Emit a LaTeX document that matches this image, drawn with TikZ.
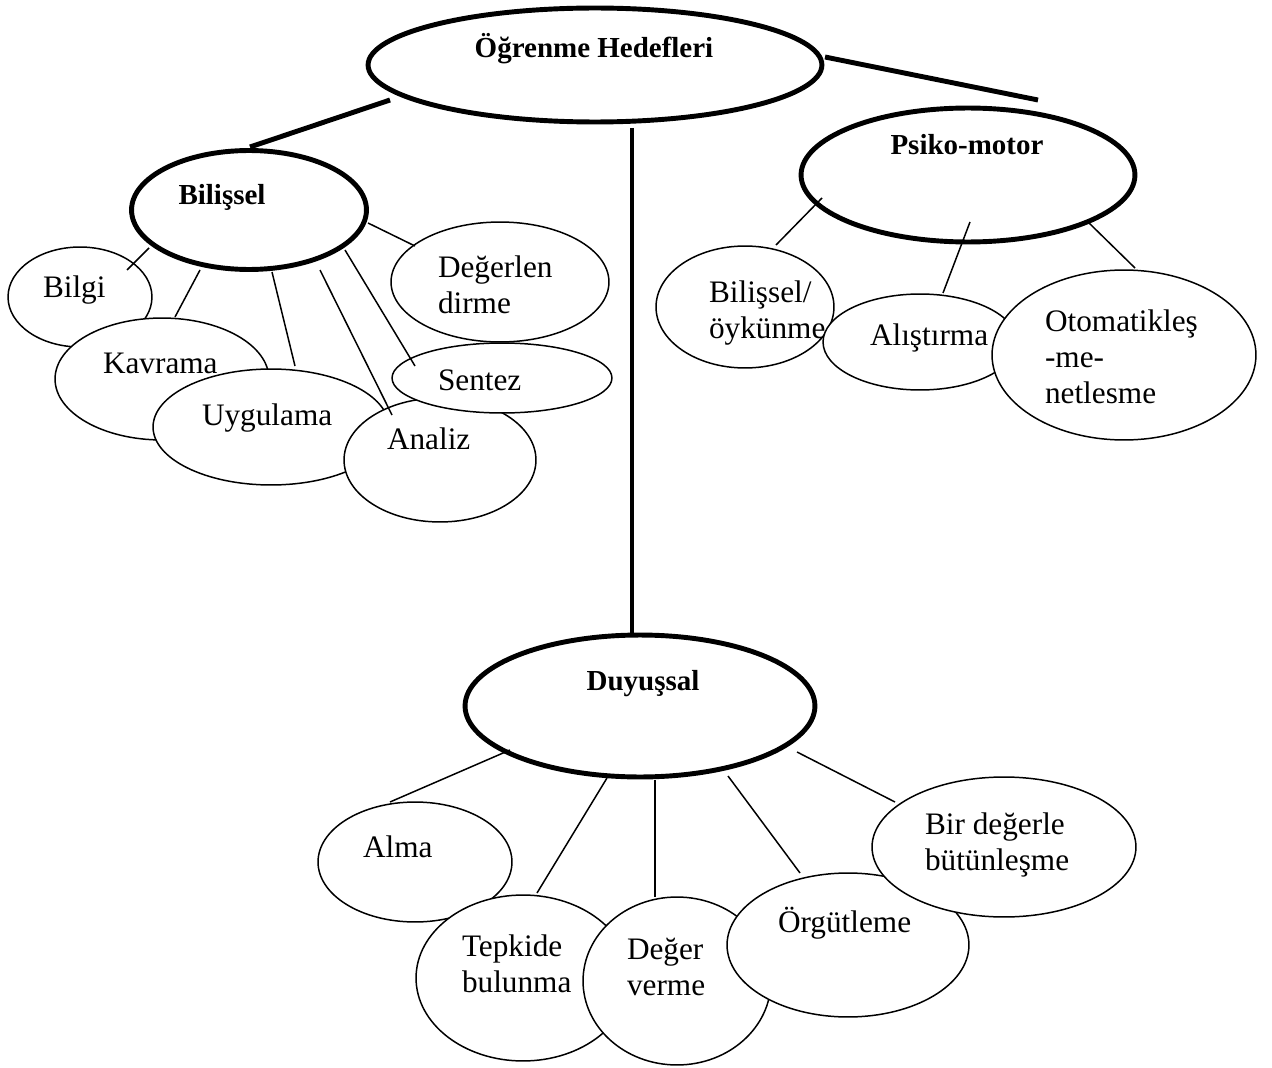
\documentclass[tikz,border=0pt]{standalone}
\usepackage{fontspec}
\setmainfont{Liberation Serif}
\usetikzlibrary{shapes.geometric}
\begin{document}
\begin{tikzpicture}[x=0.02cm,y=-0.02cm,
  every node/.style={inner sep=0pt, outer sep=0pt},
  bigel/.style 2 args={ellipse, draw, line width=2.8pt, fill=white,
    minimum width={(#1)*0.04cm}, minimum height={(#2)*0.04cm}},
  el/.style 2 args={ellipse, draw, line width=0.85pt, fill=white,
    minimum width={(#1)*0.04cm}, minimum height={(#2)*0.04cm}},
  txt/.style={font=\fontsize{17.8}{20.4}\selectfont, align=left, anchor=base west},
  btxt/.style={font=\fontsize{16.5}{20}\selectfont\bfseries, anchor=base},
  thickline/.style={line width=2.8pt},
  thinline/.style={line width=0.85pt},
]
\fill[white] (0,0) rectangle (1272,1068);
\useasboundingbox (0,0) rectangle (1272,1068);

% main goal and its three domains
\node[bigel={227}{57}]    (H) at (595,65)  {};
\node[bigel={117.5}{59.5}] (B) at (249,210) {};
\node[bigel={167}{67}]    (P) at (968,175) {};
\node[bigel={175}{71}]    (D) at (640,706) {};

\draw[thickline] ([shift={(-205,35)}]H.center) -- ([shift={(1,-63)}]B.center);
\draw[thickline] ([shift={(230,-8)}]H.center) -- ([shift={(70,-75)}]P.center);
\draw[thickline] ([shift={(37,63)}]H.center) -- ([shift={(-8,-72)}]D.center);

% cognitive levels
\node[el={72}{50}]   (bilgi)  at (80,297)  {};
\node[el={107}{61}]  (kav)    at (162,379) {};
\node[el={118}{58}]  (uyg)    at (271,427) {};
\node[el={96}{62}]   (analiz) at (440,460) {};
\node[el={110}{35}]  (sentez) at (502,378) {};
\node[el={109}{60}]  (degl)   at (500,282) {};

% psychomotor levels
\node[el={89}{61}]   (oyk)    at (745,307) {};
\node[el={97}{48}]   (alis)   at (920,342) {};
\node[el={132}{85}]  (oto)    at (1124,355) {};

% affective levels
\node[el={97}{60}]   (alma)   at (415,862) {};
\node[el={107}{83}]  (tepki)  at (523,978) {};
\node[el={94}{84}]   (dver)   at (677,981) {};
\node[el={121}{72}]  (orgut)  at (848,945) {};
\node[el={132}{70}]  (butun)  at (1004,847) {};

% connectors
\draw[thinline] ([shift={(-100,38)}]B.center) -- ([shift={(47,-27)}]bilgi.center);
\draw[thinline] ([shift={(-49,60)}]B.center)  -- ([shift={(13,-62)}]kav.center);
\draw[thinline] ([shift={(23,62)}]B.center)   -- ([shift={(24,-61)}]uyg.center);
\draw[thinline] ([shift={(71,60)}]B.center)   -- ([shift={(-48,-45)}]analiz.center);
\draw[thinline] ([shift={(96,40)}]B.center)   -- ([shift={(-87,-12)}]sentez.center);
\draw[thinline] ([shift={(119,13)}]B.center)  -- ([shift={(-85,-36)}]degl.center);

\draw[thinline] ([shift={(-146,23)}]P.center) -- ([shift={(31,-62)}]oyk.center);
\draw[thinline] ([shift={(2,47)}]P.center)    -- ([shift={(23,-49)}]alis.center);
\draw[thinline] ([shift={(120,47)}]P.center)  -- ([shift={(11,-87)}]oto.center);

\draw[thinline] ([shift={(-130,44)}]D.center) -- ([shift={(-25,-60)}]alma.center);
\draw[thinline] ([shift={(-33,72)}]D.center)  -- ([shift={(14,-85)}]tepki.center);
\draw[thinline] ([shift={(15,74)}]D.center)   -- ([shift={(-22,-84)}]dver.center);
\draw[thinline] ([shift={(88,70)}]D.center)   -- ([shift={(-48,-72)}]orgut.center);
\draw[thinline] ([shift={(157,46)}]D.center)  -- ([shift={(-109,-45)}]butun.center);

% labels (multi-line labels are placed by the baseline of their last line)
\node[btxt] (tH) at (594,58)  {Öğrenme Hedefleri};
\node[btxt] (tB) at (222,205) {Bilişsel};
\node[btxt] (tP) at (967,154) {Psiko-motor};
\node[btxt] (tD) at (643,690) {Duyuşsal};

\node[txt] (tbilgi)  at (43,297)  {Bilgi};
\node[txt] (tkav)    at (103,373) {Kavrama};
\node[txt] (tuyg)    at (202,425) {Uygulama};
\node[txt] (tanaliz) at (387,449) {Analiz};
\node[txt] (tsentez) at (438,390) {Sentez};
\node[txt] (tdegl)   at (438,313) {Değerlen\\dirme};

\node[txt] (toyk)    at (709,338) {Bilişsel/\\öykünme};
\node[txt] (talis)   at (870,345) {Alıştırma};
\node[txt] (toto)    at (1045,403) {Otomatikleş\\-me-\\netlesme};

\node[txt] (talma)   at (363,857) {Alma};
\node[txt] (ttepki)  at (462,992) {Tepkide\\bulunma};
\node[txt] (tdver)   at (627,995) {Değer\\verme};
\node[txt] (torgut)  at (778,932) {Örgütleme};
\node[txt] (tbutun)  at (925,870) {Bir değerle\\bütünleşme};
\end{tikzpicture}
\end{document}
